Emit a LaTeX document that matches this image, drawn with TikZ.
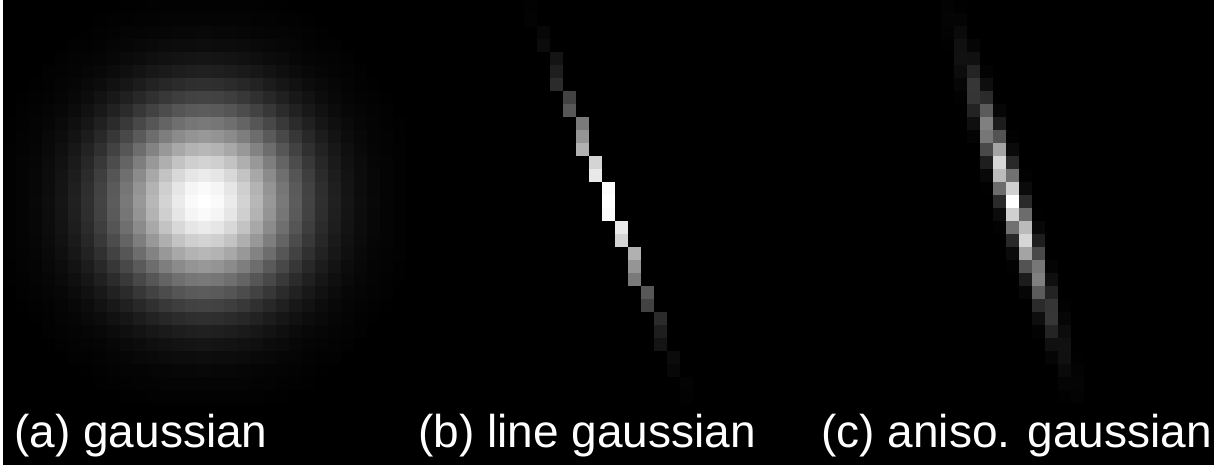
\documentclass[tikz,border=0pt]{standalone}
\usepackage{fontspec}
\setmainfont{Liberation Sans}
\usepackage{tikz}
\usetikzlibrary{positioning}
\definecolor{PanelBlack}{HTML}{000000}
\definecolor{PanelWhite}{HTML}{ffffff}
\tikzset{
    % One pixel of a kernel, #1 = brightness in percent
    kernelpixel/.style={
        fill=PanelWhite!#1!PanelBlack,
        draw=none
    },
    % Caption under each panel
    captionnode/.style={
        text=PanelWhite,
        inner sep=0pt,
        anchor=base west,
        font=\fontsize{23}{27}\selectfont
    }
}

\begin{document}
\begin{tikzpicture}[x=0.5pt, y=-0.5pt]
    \fill[PanelWhite] (0,0) rectangle (1224,466);
    \fill[PanelBlack] (3,0) rectangle (1214,465);

    % (a) isotropic gaussian
    \foreach \r in {0,...,30}{
        \foreach \c in {0,...,30}{
            \pgfmathsetmacro\v{100*exp(-min(((\c-15)^2+(\r-15)^2)/48.02,12))}
            \ifdim\v pt>0.4pt
                \fill[kernelpixel=\v] (3+13*\c,13*\r) rectangle ++(13,13);
            \fi
        }
    }

    % (b) line gaussian
    \foreach \r in {0,...,30}{
        \pgfmathtruncatemacro\c{round(15+(\r-15)*0.4)}
        \pgfmathsetmacro\v{100*exp(-min(((\c-15)+2.5*(\r-15))^2/392.1,12))}
        \ifdim\v pt>0.4pt
            \fill[kernelpixel=\v] (407+13*\c,13*\r) rectangle ++(13,13);
        \fi
    }

    % (c) anisotropic gaussian
    \foreach \r in {0,...,30}{
        \foreach \c in {0,...,30}{
            \pgfmathsetmacro\u{0.3070*(\c-15)+0.9517*(\r-15)}
            \pgfmathsetmacro\w{0.9517*(\c-15)-0.3070*(\r-15)}
            \pgfmathsetmacro\v{100*exp(-min(\u*\u/58.32+\w*\w/0.5,12))}
            \ifdim\v pt>0.4pt
                \fill[kernelpixel=\v] (811+13*\c,13*\r) rectangle ++(13,13);
            \fi
        }
    }

    \node[captionnode] (capa) at (14,447) {(a) gaussian};
    \node[captionnode] (capb) at (418,447) {(b) line gaussian};
    \node[captionnode] (capc) at (821,447) {(c) aniso. gaussian};
\end{tikzpicture}
\end{document}
